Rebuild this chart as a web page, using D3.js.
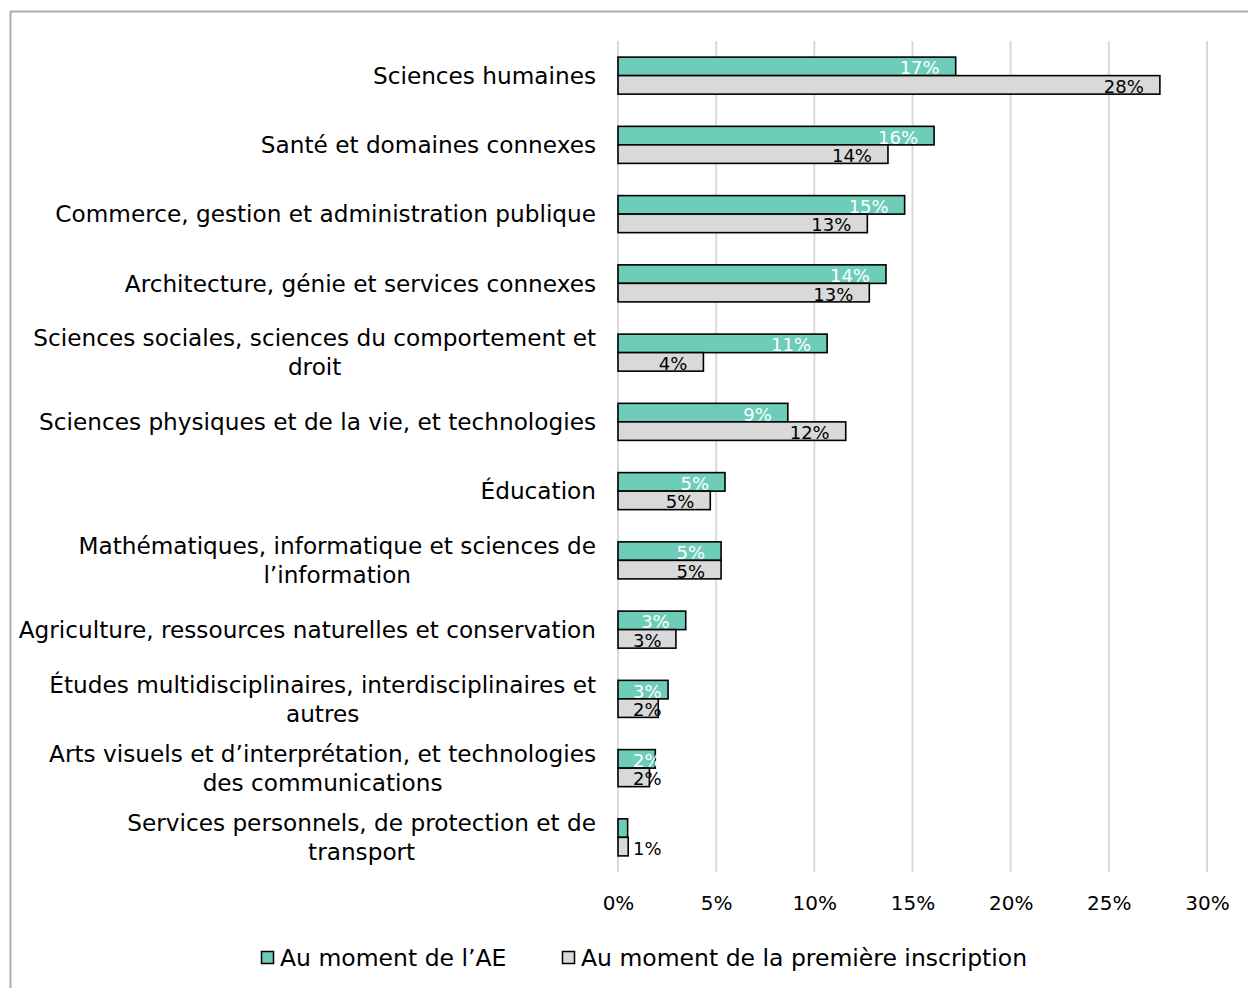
<!DOCTYPE html>
<html>
<head>
<meta charset="utf-8">
<script src="https://cdn.jsdelivr.net/npm/d3@7"></script>
<style>
  html, body { margin: 0; padding: 0; background: #fff; }
  svg { display: block; }
  text { font-family: "DejaVu Sans", sans-serif; }
</style>
</head>
<body>
<svg id="chart" width="1248" height="988"></svg>
<script>
// Fields of study (multi-line labels split on "\n")
const categories = [
  "Sciences humaines",
  "Santé et domaines connexes",
  "Commerce, gestion et administration publique",
  "Architecture, génie et services connexes",
  "Sciences sociales, sciences du comportement et\ndroit",
  "Sciences physiques et de la vie, et technologies",
  "Éducation",
  "Mathématiques, informatique et sciences de\nl’information",
  "Agriculture, ressources naturelles et conservation",
  "Études multidisciplinaires, interdisciplinaires et\nautres",
  "Arts visuels et d’interprétation, et technologies\ndes communications",
  "Services personnels, de protection et de\ntransport"
];

const seriesNames = ["Au moment de l’AE", "Au moment de la première inscription"];

// Shares (%) for each field
const valuesAE = [17.2, 16.1, 14.6, 13.65, 10.65, 8.65, 5.45, 5.25, 3.45, 2.55, 1.9, 0.49];
const valuesFirst = [27.6, 13.75, 12.7, 12.8, 4.35, 11.6, 4.7, 5.25, 2.95, 2.05, 1.6, 0.52];

const xTicks = [0, 5, 10, 15, 20, 25, 30];

const colors = ["#6dcdb9", "#d9d9d9"];
const labelColors = ["#ffffff", "#000000"];

const svg = d3.select("#chart");

// Outer frame (top and left edges)
svg.append("line").attr("x1", 10.5).attr("x2", 1248).attr("y1", 11.5).attr("y2", 11.5)
  .attr("stroke", "#ababab").attr("stroke-width", 2);
svg.append("line").attr("x1", 10.5).attr("x2", 10.5).attr("y1", 11).attr("y2", 988)
  .attr("stroke", "#ababab").attr("stroke-width", 2);

const x = d3.scaleLinear().domain([0, 30]).range([618, 1207]);
const y = d3.scaleBand().domain(categories).range([41, 872]).padding(0);
const sub = d3.scaleBand().domain(seriesNames).range([0, y.bandwidth()])
  .paddingInner(0).paddingOuter(0.87);

// Vertical gridlines
svg.append("g").selectAll("line").data(xTicks).join("line")
  .attr("x1", d => x(d)).attr("x2", d => x(d))
  .attr("y1", 41).attr("y2", 872)
  .attr("stroke", "#d9d9d9").attr("stroke-width", 2);

// Tick labels along the bottom
const xAxis = d3.axisBottom(x).tickValues(xTicks).tickSize(0).tickPadding(0)
  .tickFormat(d => d + "%");
const gx = svg.append("g").attr("transform", "translate(0,896)").call(xAxis);
gx.select(".domain").remove();
gx.selectAll("text").attr("font-size", 20).attr("fill", "#000")
  .attr("font-family", "DejaVu Sans, sans-serif").attr("dy", "0.71em");

// Category labels, right-aligned as a block, lines centred within the block
const labelRight = 596;
const lineGap = 29;
categories.forEach(cat => {
  const lines = cat.split("\n");
  const cy = y(cat) + y.bandwidth() / 2;
  const g = svg.append("g");
  const texts = lines.map((ln, i) => g.append("text")
    .attr("y", cy + (i - (lines.length - 1) / 2) * lineGap)
    .attr("dy", "0.36em")
    .attr("font-size", 23.2)
    .attr("fill", "#000")
    .text(ln));
  const widths = texts.map(t => t.node().getComputedTextLength());
  const maxW = d3.max(widths);
  const cx = labelRight - maxW / 2;
  texts.forEach(t => t.attr("x", cx).attr("text-anchor", "middle"));
});

// Bars
const rows = categories.map((c, i) => ({ cat: c, vals: [valuesAE[i], valuesFirst[i]] }));
const groups = svg.append("g").selectAll("g").data(rows).join("g")
  .attr("transform", d => `translate(0,${y(d.cat)})`);

groups.selectAll("rect")
  .data(d => d.vals.map((v, k) => ({ v, k })))
  .join("rect")
  .attr("x", x(0))
  .attr("y", d => sub(seriesNames[d.k]))
  .attr("width", d => x(d.v) - x(0))
  .attr("height", sub.bandwidth())
  .attr("fill", d => colors[d.k])
  .attr("stroke", "#000")
  .attr("stroke-width", 1.6);

// Value labels at the inside end of each bar (white labels that would
// fall outside their bar on the white background are left out)
groups.selectAll("text.val")
  .data(d => d.vals.map((v, k) => ({ v, k })).filter(e => !(e.k === 0 && e.v < 1)))
  .join("text")
  .attr("class", "val")
  .attr("font-size", 18)
  .attr("fill", d => labelColors[d.k])
  .attr("y", d => sub(seriesNames[d.k]) + sub.bandwidth() / 2 + 1.5)
  .attr("dy", "0.36em")
  .attr("text-anchor", "end")
  .text(d => Math.round(d.v) + "%")
  .each(function (d) {
    const w = this.getComputedTextLength();
    const xr = Math.max(x(d.v) - 16, x(0) + 15 + w);
    d3.select(this).attr("x", xr);
  });

// Legend
const legendItems = [
  { name: seriesNames[0], color: colors[0], x: 261 },
  { name: seriesNames[1], color: colors[1], x: 562 }
];
const lg = svg.append("g").selectAll("g").data(legendItems).join("g")
  .attr("transform", d => `translate(${d.x},951)`);
lg.append("rect").attr("x", 0.5).attr("y", 0.5).attr("width", 12).attr("height", 12)
  .attr("fill", d => d.color).attr("stroke", "#000").attr("stroke-width", 1.5);
lg.append("text").attr("x", 19).attr("y", 6.5).attr("dy", "0.36em")
  .attr("font-size", 23.5).attr("fill", "#000").text(d => d.name);
</script>
</body>
</html>
